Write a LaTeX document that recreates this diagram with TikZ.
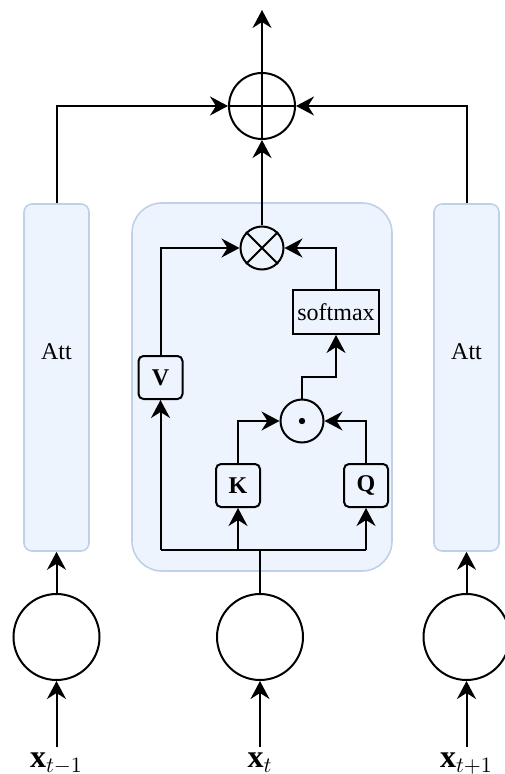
\documentclass[tikz,border=0pt]{standalone}
\usepackage{fontspec}
\setmainfont{Liberation Serif}
\usetikzlibrary{arrows.meta}
\definecolor{attfill}{HTML}{EEF4FD}
\definecolor{attline}{HTML}{BFD1EA}
\begin{document}
\begin{tikzpicture}[x=0.5pt, y=-0.5pt, line width=1pt,
    >={Stealth[length=9pt, width=9.5pt, inset=3pt]},
    every node/.style={font=\fontsize{12}{14}\selectfont},
    attbox/.style={draw=attline, fill=attfill, line width=0.8pt, rounded corners=4pt},
    unit/.style={circle, draw, minimum size=43pt, inner sep=0pt},
    op/.style={circle, draw, minimum size=21.5pt, inner sep=0pt},
    kqv/.style={draw, rounded corners=2.5pt, minimum width=22pt, minimum height=21.5pt,
        inner sep=0pt, font=\fontsize{12}{14}\selectfont\bfseries},
    input/.style={anchor=base, inner sep=2pt, font=\fontsize{16}{18}\selectfont}]
    \useasboundingbox (0,0) rectangle (504,774);
    % attention blocks
    \node[attbox, minimum width=32.5pt, minimum height=173.5pt] (attl) at (56.5,377.5) {};
    \node[attbox, minimum width=32.5pt, minimum height=173.5pt] (attr) at (466.5,377.5) {};
    \node[attbox, rounded corners=15pt, minimum width=130pt, minimum height=184pt] (attm) at (262,387) {};
    \node (attltxt) at (56.5,352) {Att};
    \node (attrtxt) at (466.5,352) {Att};
    % operators
    \node[op, minimum size=33pt] (add) at (262,106) {};
    \draw (add.north) -- (add.south) (add.west) -- (add.east);
    \node[op] (mul) at (262,248) {};
    \draw (mul.45) -- (mul.225) (mul.135) -- (mul.315);
    \node[op] (dot) at (302,421) {};
    \fill (dot.center) circle (1.6pt);
    \node[draw, minimum width=43pt, minimum height=22pt, inner sep=0pt] (soft) at (336,312) {softmax};
    \node[kqv] (v) at (160.5,377.5) {V};
    \node[kqv] (k) at (238,485.5) {K};
    \node[kqv] (q) at (366,485.5) {Q};
    % hidden units and inputs
    \node[unit] (hl) at (56.5,637) {};
    \node[unit] (hm) at (260,637) {};
    \node[unit] (hr) at (466.5,637) {};
    \node[input] (xl) at (56.5,767) {$\mathbf{x}_{t-1}$};
    \node[input] (xm) at (260,767) {$\mathbf{x}_{t}$};
    \node[input] (xr) at (466.5,767) {$\mathbf{x}_{t+1}$};
    \coordinate (bus) at (260,550);
    \coordinate (out) at (262,10);
    % connections
    \draw[->] (xl.north) -- (hl.south);
    \draw[->] (xm.north) -- (hm.south);
    \draw[->] (xr.north) -- (hr.south);
    \draw[->] (hl.north) -- (attl.south);
    \draw[->] (hr.north) -- (attr.south);
    \draw (hm.north) -- (bus);
    \draw (v |- bus) -- (q |- bus);
    \draw[->] (v |- bus) -- (v.south);
    \draw[->] (k |- bus) -- (k.south);
    \draw[->] (q |- bus) -- (q.south);
    \draw[->] (k.north) |- (dot.west);
    \draw[->] (q.north) |- (dot.east);
    \draw[->] (dot.north) -- ++(0,-21.5) -| (soft.south);
    \draw[->] (v.north) |- (mul.west);
    \draw[->] (soft.north) |- (mul.east);
    \draw[->] (mul.north) -- (add.south);
    \draw[->] (attl.north) |- (add.west);
    \draw[->] (attr.north) |- (add.east);
    \draw[->] (add.north) -- (out);
\end{tikzpicture}
\end{document}
